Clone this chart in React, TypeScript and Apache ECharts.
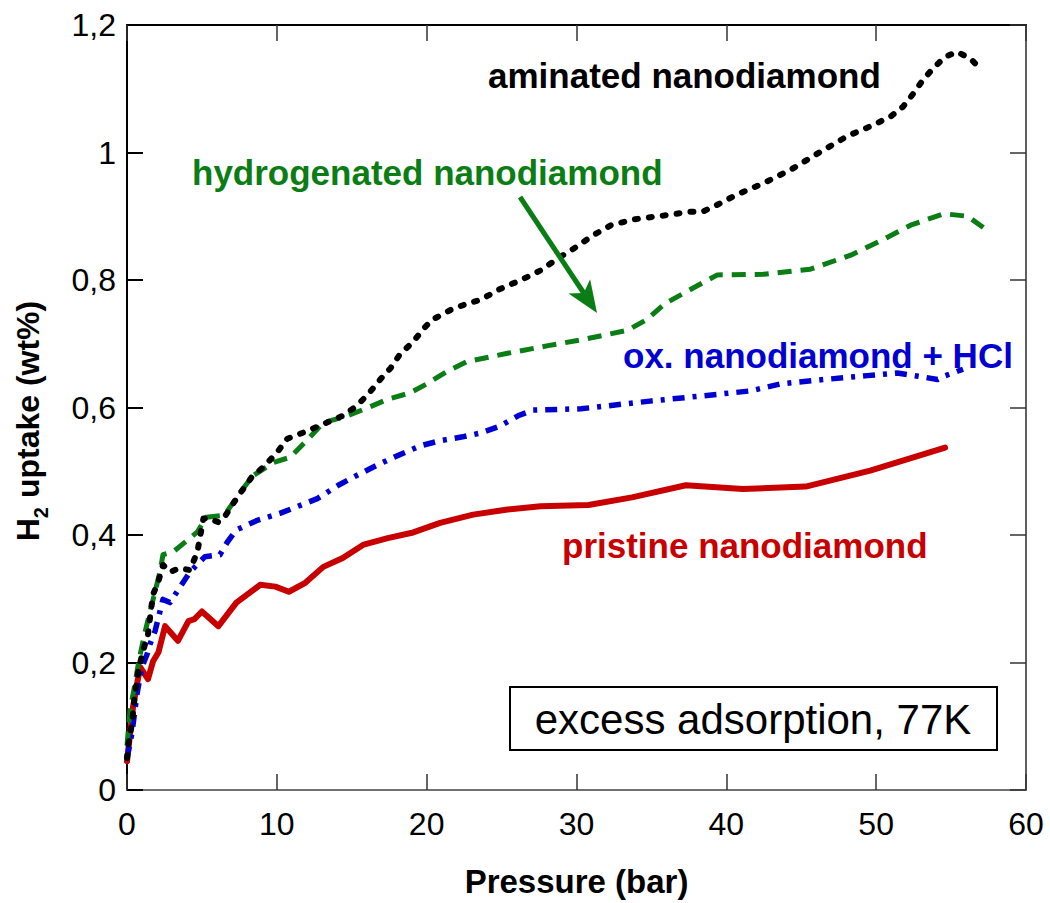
import React, { useEffect, useRef } from "react";
import * as echarts from "echarts";

// H2 excess adsorption isotherms at 77 K: [pressure (bar), uptake (wt%)]
const pristine: [number, number][] = [
  [0, 0.045], [0.4, 0.13], [0.87, 0.193], [1.4, 0.174], [1.74, 0.202], [2.1, 0.216],
  [2.54, 0.257], [3.4, 0.234], [4.1, 0.265], [4.5, 0.268], [5.0, 0.28], [6.1, 0.257],
  [7.3, 0.294], [8.9, 0.322], [9.9, 0.319], [10.8, 0.311], [11.9, 0.325], [13.1, 0.35],
  [14.4, 0.364], [15.8, 0.385], [17.4, 0.395], [19.1, 0.404], [20.9, 0.419], [23.1, 0.432],
  [25.4, 0.44], [27.6, 0.445], [30.8, 0.447], [33.7, 0.459], [37.3, 0.478], [41.1, 0.472],
  [45.3, 0.476], [49.6, 0.501], [54.6, 0.537],
];

const oxidizedHCl: [number, number][] = [
  [0, 0.05], [0.33, 0.089], [0.67, 0.151], [1.0, 0.193], [1.34, 0.213], [1.54, 0.229],
  [1.87, 0.249], [2.2, 0.28], [2.4, 0.299], [2.87, 0.294], [3.5, 0.317], [4.2, 0.342],
  [5.2, 0.366], [6.2, 0.369], [6.7, 0.389], [7.3, 0.408], [8.7, 0.423], [10.2, 0.434],
  [11.3, 0.444], [12.7, 0.457], [14.1, 0.478], [15.3, 0.493], [16.9, 0.512], [18.2, 0.526],
  [19.6, 0.54], [20.9, 0.548], [22.4, 0.554], [23.6, 0.56], [24.9, 0.571], [26.1, 0.587],
  [27.1, 0.596], [30.3, 0.598], [34.9, 0.61], [38.3, 0.618], [41.6, 0.626], [43.6, 0.637],
  [46.1, 0.643], [49.4, 0.65], [51.4, 0.654], [52.8, 0.649], [54.1, 0.644], [54.5, 0.649],
  [55.8, 0.66],
];

const hydrogenated: [number, number][] = [
  [0, 0.07], [0.2, 0.125], [0.53, 0.166], [0.75, 0.197], [1.0, 0.226], [1.2, 0.247],
  [1.54, 0.28], [1.87, 0.311], [2.2, 0.342], [2.4, 0.369], [3.1, 0.374], [4.2, 0.395],
  [4.7, 0.405], [5.3, 0.428], [6.5, 0.431], [7.5, 0.465], [8.4, 0.493], [9.8, 0.514],
  [10.9, 0.522], [12.1, 0.551], [13.1, 0.576], [14.7, 0.587], [16.0, 0.599], [17.4, 0.613],
  [18.9, 0.623], [20.0, 0.637], [21.4, 0.657], [22.7, 0.672], [25.4, 0.685], [28.1, 0.697],
  [30.5, 0.707], [33.4, 0.721], [34.7, 0.738], [35.9, 0.763], [37.6, 0.785], [39.4, 0.808],
  [42.5, 0.809], [45.6, 0.817], [48.3, 0.839], [50.5, 0.864], [52.3, 0.886], [54.5, 0.904],
  [56.1, 0.9], [57.4, 0.878],
];

const aminated: [number, number][] = [
  [0, 0.05], [0.1, 0.073], [0.33, 0.104], [0.53, 0.151], [0.75, 0.187], [1.07, 0.218],
  [1.4, 0.244], [1.54, 0.271], [1.74, 0.307], [2.07, 0.325], [2.4, 0.353], [2.87, 0.342],
  [3.5, 0.348], [4.2, 0.345], [4.7, 0.374], [5.1, 0.426], [5.5, 0.426], [6.1, 0.42],
  [6.5, 0.428], [7.3, 0.457], [8.3, 0.49], [9.2, 0.509], [10.0, 0.529], [10.7, 0.551],
  [11.8, 0.561], [13.1, 0.574], [14.4, 0.587], [15.3, 0.602], [16.1, 0.621], [16.9, 0.644],
  [17.6, 0.662], [18.2, 0.683], [19.1, 0.703], [19.8, 0.724], [20.4, 0.738], [21.6, 0.753],
  [22.7, 0.763], [23.6, 0.769], [24.9, 0.786], [26.3, 0.8], [27.6, 0.815], [28.9, 0.836],
  [29.8, 0.849], [31.1, 0.87], [32.3, 0.886], [33.8, 0.895], [35.8, 0.901], [37.6, 0.907],
  [38.4, 0.907], [39.4, 0.918], [40.7, 0.934], [42.5, 0.952], [44.3, 0.973], [46.2, 1.0],
  [48.1, 1.026], [49.8, 1.043], [51.0, 1.057], [51.8, 1.072], [52.4, 1.09], [53.1, 1.113],
  [53.8, 1.132], [54.6, 1.15], [55.4, 1.158], [56.3, 1.147], [57.1, 1.128],
];

const seriesNames = [
  "pristine nanodiamond",
  "ox. nanodiamond + HCl",
  "hydrogenated nanodiamond",
  "aminated nanodiamond",
];

const xTitle = "Pressure (bar)";
const boxNote = "excess adsorption, 77K";

const RED = "#c80000";
const BLUE = "#0000d2";
const GREEN = "#0a7d14";
const BLACK = "#000000";
const FONT = "'Liberation Sans', Arial, Helvetica, sans-serif";

export default function App() {
  const ref = useRef<HTMLDivElement>(null);

  useEffect(() => {
    if (!ref.current) return;
    const chart = echarts.init(ref.current, undefined, { renderer: "svg" });

    const labelFont = { fontFamily: FONT, fontWeight: "bold" as const, fontSize: 35 };

    // arrow geometry for the "hydrogenated" pointer
    const ax0 = 520, ay0 = 197, ax1 = 597, ay1 = 313;
    const len = Math.hypot(ax1 - ax0, ay1 - ay0);
    const ux = (ax1 - ax0) / len, uy = (ay1 - ay0) / len;
    const px = -uy, py = ux;
    const headL = 32, headW = 13, notch = 24;
    const bx = ax1 - ux * headL, by = ay1 - uy * headL;
    const nx = ax1 - ux * notch, ny = ay1 - uy * notch;

    const hiddenAxis = {
      axisLabel: { show: false },
      splitLine: { show: false },
      axisTick: { show: true, inside: true, length: 16, lineStyle: { color: "#333", width: 1.5 } },
    };

    chart.setOption({
      animation: false,
      backgroundColor: "#ffffff",
      grid: { left: 127, right: 24, top: 25, bottom: 106, containLabel: false },
      xAxis: [
        {
          type: "value",
          min: 0,
          max: 60,
          interval: 10,
          position: "bottom",
          name: xTitle,
          nameLocation: "middle",
          nameGap: 75,
          nameTextStyle: { ...labelFont, color: "#000", fontSize: 33 },
          axisLine: { show: true, onZero: false, lineStyle: { color: "#707070", width: 2 } },
          axisTick: { show: true, inside: true, length: 16, lineStyle: { color: "#333", width: 1.5 } },
          axisLabel: { color: "#000", fontFamily: FONT, fontSize: 32, margin: 18 },
          splitLine: { show: false },
        },
        {
          type: "value",
          min: 0,
          max: 60,
          interval: 10,
          position: "top",
          axisLine: { show: true, onZero: false, lineStyle: { color: "#000", width: 2 } },
          ...hiddenAxis,
        },
      ],
      yAxis: [
        {
          type: "value",
          min: 0,
          max: 1.2,
          interval: 0.2,
          position: "left",
          axisLine: { show: true, onZero: false, lineStyle: { color: "#000", width: 2 } },
          axisTick: { show: true, inside: true, length: 16, lineStyle: { color: "#000", width: 2 } },
          axisLabel: {
            color: "#000",
            fontFamily: FONT,
            fontSize: 32,
            margin: 11,
            formatter: (v: number) => String(Math.round(v * 10) / 10).replace(".", ","),
          },
          splitLine: { show: false },
        },
        {
          type: "value",
          min: 0,
          max: 1.2,
          interval: 0.2,
          position: "right",
          axisLine: { show: true, onZero: false, lineStyle: { color: "#606060", width: 2 } },
          ...hiddenAxis,
        },
      ],
      series: [
        {
          name: seriesNames[0],
          type: "line",
          data: pristine,
          showSymbol: false,
          lineStyle: { color: RED, width: 6, cap: "round", join: "round" },
          z: 3,
        },
        {
          name: seriesNames[1],
          type: "line",
          data: oxidizedHCl,
          showSymbol: false,
          lineStyle: { color: BLUE, width: 5.5, type: [12, 8, 4, 8], cap: "butt", join: "round" },
          z: 4,
        },
        {
          name: seriesNames[2],
          type: "line",
          data: hydrogenated,
          showSymbol: false,
          lineStyle: { color: GREEN, width: 5, type: [14, 9], cap: "butt", join: "round" },
          z: 5,
        },
        {
          name: seriesNames[3],
          type: "line",
          data: aminated,
          showSymbol: false,
          lineStyle: { color: BLACK, width: 6, type: [3, 11], cap: "round", join: "round" },
          z: 6,
        },
      ],
      graphic: [
        {
          type: "text",
          x: 28,
          y: 421,
          rotation: Math.PI / 2,
          style: {
            text: "{a|H}{b|2}{a| uptake (wt%)}",
            align: "center",
            verticalAlign: "middle",
            fill: "#000",
            rich: {
              a: { fontFamily: FONT, fontWeight: "bold", fontSize: 32, fill: "#000" },
              b: { fontFamily: FONT, fontWeight: "bold", fontSize: 20, fill: "#000", padding: [25, 0, 0, 0] },
            },
          },
        },
        {
          type: "text",
          x: 488,
          y: 75,
          z: 10,
          style: { text: seriesNames[3], ...labelFont, fill: BLACK, align: "left", verticalAlign: "middle" },
        },
        {
          type: "text",
          x: 192,
          y: 172,
          z: 10,
          style: { text: seriesNames[2], ...labelFont, fill: GREEN, align: "left", verticalAlign: "middle" },
        },
        {
          type: "text",
          x: 623,
          y: 355,
          z: 10,
          style: { text: seriesNames[1], ...labelFont, fill: BLUE, align: "left", verticalAlign: "middle" },
        },
        {
          type: "text",
          x: 562,
          y: 545,
          z: 10,
          style: { text: seriesNames[0], ...labelFont, fill: RED, align: "left", verticalAlign: "middle" },
        },
        {
          type: "line",
          z: 10,
          shape: { x1: ax0, y1: ay0, x2: nx, y2: ny },
          style: { stroke: GREEN, lineWidth: 5 },
        },
        {
          type: "polygon",
          z: 10,
          shape: {
            points: [
              [ax1, ay1],
              [bx + px * headW, by + py * headW],
              [nx, ny],
              [bx - px * headW, by - py * headW],
            ],
          },
          style: { fill: GREEN },
        },
        {
          type: "rect",
          z: 10,
          shape: { x: 510, y: 687, width: 487, height: 63 },
          style: { fill: "#ffffff", stroke: "#000", lineWidth: 2 },
        },
        {
          type: "text",
          z: 11,
          x: 753,
          y: 719,
          style: {
            text: boxNote,
            fontFamily: FONT,
            fontSize: 42,
            fill: "#000",
            align: "center",
            verticalAlign: "middle",
          },
        },
      ],
    });

    return () => chart.dispose();
  }, []);

  return (
    <div
      ref={ref}
      style={{ position: "fixed", left: 0, top: 0, width: 1050, height: 903, background: "#fff" }}
    />
  );
}
